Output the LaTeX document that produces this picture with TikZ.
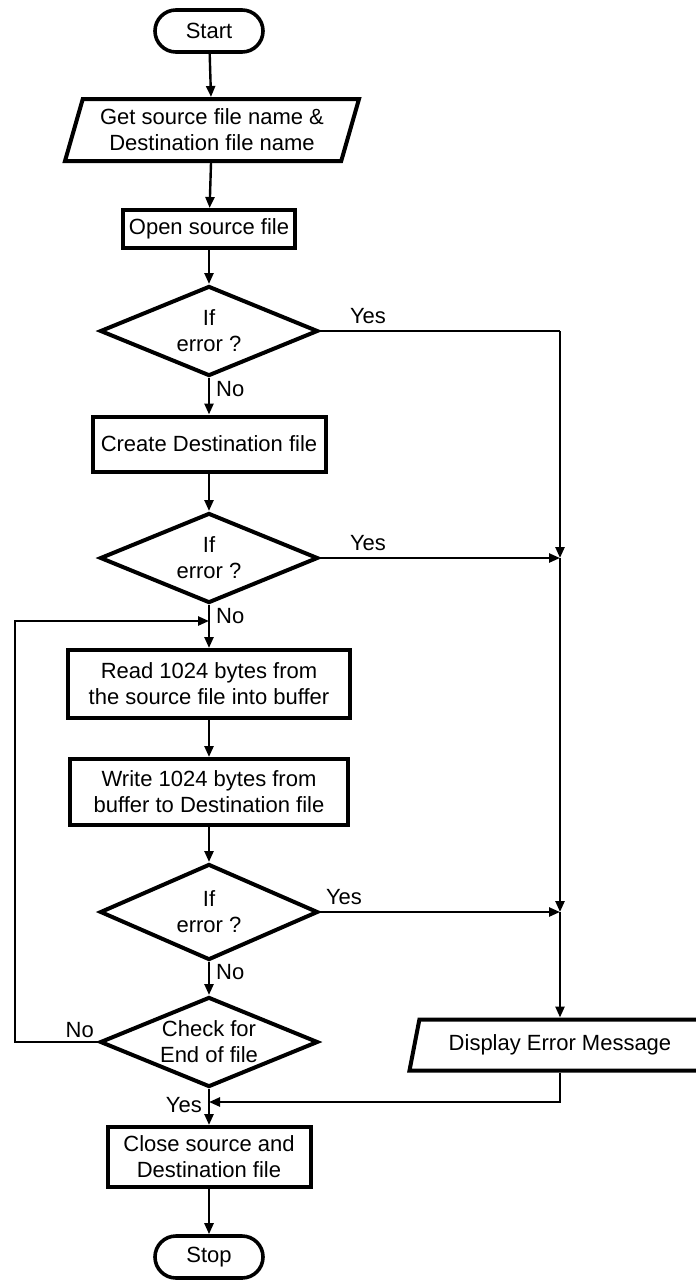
\documentclass[tikz,border=0pt]{standalone}
\usepackage{fontspec}
\setmainfont{Liberation Sans}
\usetikzlibrary{arrows.meta}
\usetikzlibrary{shapes.geometric}

\begin{document}
\begin{tikzpicture}[x=1pt,y=-1pt,font=\fontsize{22}{26}\selectfont,
  term/.style={draw, line width=3.6pt, rounded corners=21pt, minimum width=108pt, minimum height=42pt},
  box/.style={draw, line width=4pt, align=center, inner xsep=6pt},
  io/.style={draw, line width=4pt, align=center, trapezium, trapezium left angle=70, trapezium right angle=110, trapezium stretches body},
  test/.style={draw, line width=4pt, align=center, diamond, inner xsep=-20pt, inner ysep=-15pt, minimum width=218pt, minimum height=90pt},
  arr/.style={-{Triangle[length=11pt,width=9pt]}, line width=2.4pt},
  lbl/.style={inner sep=6pt}]
\useasboundingbox (0,0) rectangle (696,1283);

\node[term] (start) at (209,31) {Start};
\node[io, minimum width=294pt, minimum height=62pt] (get) at (212,130) {Get source file name \&\\Destination file name};
\node[box, minimum width=171pt, minimum height=38pt] (open) at (209,229) {Open source file};
\node[test] (d1) at (209,331) {If\\error ?};
\node[box, minimum width=233pt, minimum height=55pt] (create) at (209,444) {Create Destination file};
\node[test] (d2) at (209,558) {If\\error ?};
\node[box, minimum width=282pt, minimum height=68pt] (read) at (209,684) {Read 1024 bytes from\\the source file into buffer};
\node[box, minimum width=278pt, minimum height=66pt] (write) at (209,792) {Write 1024 bytes from\\buffer to Destination file};
\node[test, minimum height=96pt] (d3) at (209,912) {If\\error ?};
\node[test] (d4) at (209,1042) {Check for\\End of file};
\node[box, minimum width=203pt, minimum height=60pt] (close) at (209,1157) {Close source and\\Destination file};
\node[term] (stop) at (209,1257) {Stop};
\node[io, minimum width=301pt, minimum height=51pt] (disp) at (560,1045) {Display Error Message};

\coordinate (r1) at (560,331);
\coordinate (r2) at (560,558);
\coordinate (r3) at (560,912);
\coordinate (back) at (209,1102);
\coordinate (loop) at (15,621);
\coordinate (loopin) at (209,621);

\draw[arr] (start) -- (get);
\draw[arr] (get) -- (open);
\draw[arr] (open) -- (d1);
\draw[arr] (d1) -- node[lbl, right, pos=.3]{No} (create);
\draw[arr] (create) -- (d2);
\draw[arr] (d2) -- node[lbl, right, pos=.25]{No} (read);
\draw[arr] (read) -- (write);
\draw[arr] (write) -- (d3);
\draw[arr] (d3) -- node[lbl, right, pos=.3]{No} (d4);
\draw[arr] (d4) -- node[lbl, left, pos=.45]{Yes} (close);
\draw[arr] (close) -- (stop);

% loop back to read
\draw[arr] (d4.west) node[lbl, above left, inner sep=3pt]{No} -| (loop) -- (loopin);

% error branch
\draw[line width=2.4pt] (d1.east) -- node[lbl, above, pos=.2]{Yes} (r1);
\draw[arr] (r1) -- (r2);
\draw[arr] (d2.east) -- node[lbl, above, pos=.2]{Yes} (r2);
\draw[arr] (r2) -- (r3);
\draw[arr] (d3.east) -- node[lbl, above, pos=.1]{Yes} (r3);
\draw[arr] (r3) -- (disp);
\draw[arr] (disp) |- (back);
\end{tikzpicture}
\end{document}
